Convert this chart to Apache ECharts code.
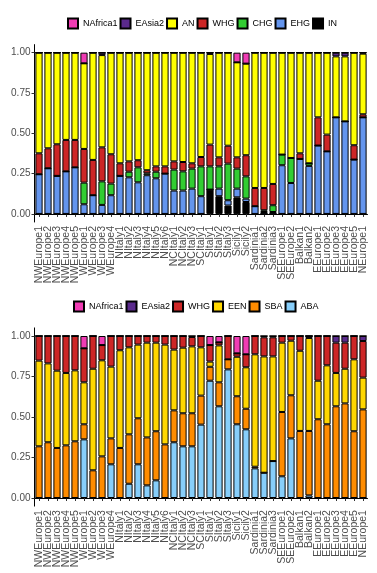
<!DOCTYPE html>
<html>
<head>
<meta charset="utf-8">
<script src="https://cdn.jsdelivr.net/npm/echarts@6/dist/echarts.min.js"></script>
<style>
  html, body { margin: 0; padding: 0; background: #fff; }
  #main { width: 377px; height: 573px; }
</style>
</head>
<body>
<div id="main"></div>
<script>
const groups = ['NWEurope1', 'NWEurope2', 'NWEurope3', 'NWEurope4', 'NWEurope5',
  'WEurope1', 'WEurope2', 'WEurope3', 'WEurope4',
  'NItaly1', 'NItaly2', 'NItaly3', 'NItaly4', 'NItaly5', 'NItaly6',
  'NCItaly1', 'NCItaly2', 'NCItaly3', 'SCItaly1',
  'SItaly1', 'SItaly2', 'SItaly3', 'Sicily1', 'Sicily2',
  'Sardinia1', 'Sardinia2', 'Sardinia3', 'SEEurope1', 'SEEurope2',
  'Balkan1', 'Balkan2', 'EEurope1', 'EEurope2', 'EEurope3', 'EEurope4', 'EEurope5', 'NEurope1']

const yTicks = [0, 0.25, 0.5, 0.75, 1]

// top panel (stack bottom -> top: IN, EHG, CHG, WHG, AN, EAsia2, NAfrica1)
const topIN = [0, 0, 0, 0, 0, 0, 0, 0, 0, 0, 0, 0, 0, 0, 0, 0, 0, 0, 0,
  .151, .110, .052, .103, .074, 0, 0, 0, 0, 0, 0, 0, 0, 0, 0, 0, 0, 0]
const topEHG = [.246, .283, .236, .264, .289, .060, .116, .056, .116, .236, .227, .196, .240, .221, .250,
  .145, .145, .157, .110, 0, .047, .033, .054, .021, .048, .012, .012, .302, .192,
  .341, .298, .424, .388, .599, .574, .337, .599]
const topCHG = [0, 0, 0, 0, 0, .134, 0, .146, .072, 0, .035, .093, .012, .041, 0,
  .130, .119, .124, .185, .144, .138, .227, .124, .138, 0, .011, .042, .066, .155,
  0, .016, 0, 0, 0, 0, 0, 0]
const topWHG = [.130, .124, .196, .195, .170, .209, .219, .211, .182, .078, .064, .044, .019, .033, .045,
  .051, .058, .033, .058, .135, .056, .111, .070, .131, .113, .138, .132, 0, 0,
  .035, 0, .175, .104, 0, 0, .089, .019]
const topAN = [.624, .593, .568, .541, .541, .531, .665, .572, .630, .686, .674, .667, .729, .705, .705,
  .674, .678, .686, .647, .562, .649, .577, .589, .568, .839, .839, .814, .632, .653,
  .624, .686, .401, .508, .378, .403, .574, .376]
const topEAsia2 = [0, 0, 0, 0, 0, 0, 0, .015, 0, 0, 0, 0, 0, 0, 0, 0, 0, 0, 0,
  .008, 0, 0, 0, 0, 0, 0, 0, 0, 0, 0, 0, 0, 0, .023, .023, 0, .006]
const topNAfrica1 = [0, 0, 0, 0, 0, .066, 0, 0, 0, 0, 0, 0, 0, 0, 0, 0, 0, 0, 0,
  0, 0, 0, .060, .068, 0, 0, 0, 0, 0, 0, 0, 0, 0, 0, 0, 0, 0]

// bottom panel (stack bottom -> top: ABA, SBA, EEN, WHG, EAsia2, NAfrica1)
const botABA = [0, 0, 0, 0, 0, .362, 0, 0, .208, 0, .088, .208, .078, .109, 0,
  .344, .319, .319, .453, .724, .566, .794, .455, .424, .183, .156, .228, .134, .368,
  0, .016, 0, 0, 0, 0, 0, 0]
const botSBA = [.319, .344, .309, .325, .350, .093, .171, .257, .160, .309, .305, .284, .296, .303, .331,
  .197, .204, .204, .179, .086, .148, .062, .173, .127, .010, 0, 0, .397, .266,
  .414, .398, .486, .455, .566, .584, .412, .547]
const botEEN = [.529, .487, .477, .447, .438, .259, .627, .593, .443, .603, .537, .455, .585, .547, .616,
  .375, .405, .413, .298, .032, .228, 0, .244, .256, .694, .718, .646, .428, .337,
  .495, .574, .238, .364, .206, .214, .444, .196]
const botWHG = [.152, .169, .214, .228, .212, .210, .202, .094, .189, .088, .070, .053, .041, .041, .053,
  .084, .072, .058, .070, .102, .019, .144, .021, .080, .113, .118, .118, .041, .029,
  .091, .012, .276, .181, .187, .161, .144, .226]
const botEAsia2 = [0, 0, 0, 0, 0, 0, 0, 0, 0, 0, 0, 0, 0, 0, 0, 0, 0, .006, 0,
  0, 0, 0, 0, 0, 0, .008, .008, 0, 0, 0, 0, 0, 0, .041, .041, 0, .031]
const botNAfrica1 = [0, 0, 0, 0, 0, .076, 0, .056, 0, 0, 0, 0, 0, 0, 0, 0, 0, 0, 0,
  .056, .039, 0, .107, .113, 0, 0, 0, 0, 0, 0, 0, 0, 0, 0, 0, 0, 0]

const colors = {
  NAfrica1: '#F03CB4', EAsia2: '#5A2A8C', AN: '#FFFF00', WHG: '#CD2626',
  CHG: '#32CD32', EHG: '#6495ED', IN: '#000000',
  EEN: '#FFD700', SBA: '#FF8C00', ABA: '#87CEFA'
}

const font = 'Liberation Sans, Arial, sans-serif'

const bar = (name, data, idx) => ({
  name: name,
  type: 'bar',
  stack: 'p' + idx,
  xAxisIndex: idx,
  yAxisIndex: idx,
  data: data,
  barWidth: '80%',
  itemStyle: { color: colors[name], borderColor: '#000', borderWidth: 1 },
  emphasis: { disabled: true }
})

const xAx = (idx) => ({
  type: 'category',
  gridIndex: idx,
  data: groups,
  axisLine: { lineStyle: { color: '#000', width: 1 } },
  axisTick: { show: true, alignWithLabel: true, length: 3, lineStyle: { color: '#333' } },
  axisLabel: { rotate: 90, interval: 0, fontSize: 10.5, color: '#4d4d4d', fontFamily: font, margin: 4 }
})

const yAx = (idx) => ({
  type: 'value',
  gridIndex: idx,
  min: -0.05,
  max: 1.05,
  splitLine: { show: false },
  axisLine: { show: true, lineStyle: { color: '#000', width: 1 } },
  axisTick: { show: true, length: 3, customValues: yTicks, lineStyle: { color: '#333' } },
  axisLabel: {
    customValues: yTicks, fontSize: 10, color: '#4d4d4d', fontFamily: font, margin: 4,
    formatter: (v) => v.toFixed(2)
  }
})

const legendBase = {
  itemWidth: 10,
  itemHeight: 10,
  itemGap: 2,
  padding: 0,
  icon: 'rect',
  textStyle: { fontSize: 9, color: '#000', fontFamily: font }
}

const chart = echarts.init(document.getElementById('main'))
chart.setOption({
  animation: false,
  backgroundColor: '#fff',
  legend: [
    Object.assign({}, legendBase, { top: 17.5, left: 67, data: ['NAfrica1', 'EAsia2', 'AN', 'WHG', 'CHG', 'EHG', 'IN'] }),
    Object.assign({}, legendBase, { top: 300.5, left: 73, data: ['NAfrica1', 'EAsia2', 'WHG', 'EEN', 'SBA', 'ABA'] })
  ],
  grid: [
    { left: 34.5, width: 333, top: 44.6, height: 177.4 },
    { left: 34.5, width: 333, top: 327.9, height: 178.2 }
  ],
  xAxis: [xAx(0), xAx(1)],
  yAxis: [yAx(0), yAx(1)],
  series: [
    bar('IN', topIN, 0),
    bar('EHG', topEHG, 0),
    bar('CHG', topCHG, 0),
    bar('WHG', topWHG, 0),
    bar('AN', topAN, 0),
    bar('EAsia2', topEAsia2, 0),
    bar('NAfrica1', topNAfrica1, 0),
    bar('ABA', botABA, 1),
    bar('SBA', botSBA, 1),
    bar('EEN', botEEN, 1),
    bar('WHG', botWHG, 1),
    bar('EAsia2', botEAsia2, 1),
    bar('NAfrica1', botNAfrica1, 1)
  ]
})
</script>
</body>
</html>
